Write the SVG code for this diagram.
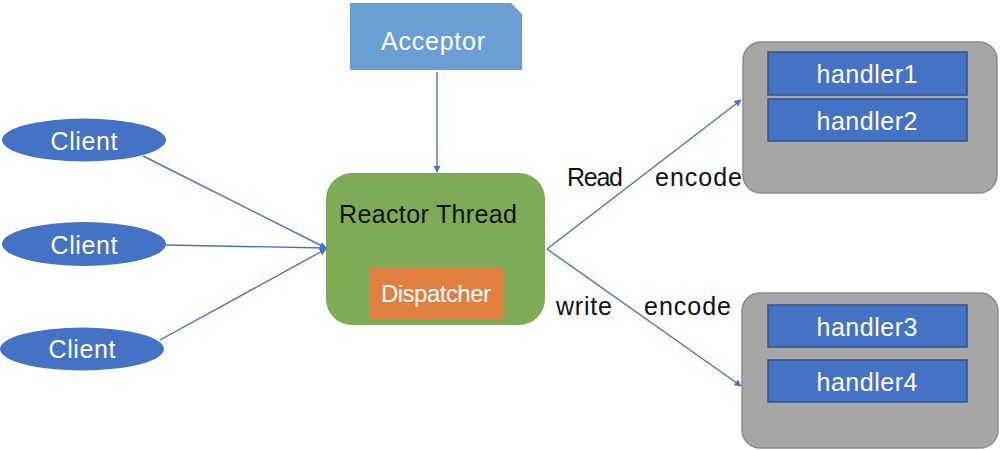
<svg xmlns="http://www.w3.org/2000/svg" width="1000" height="450" viewBox="0 0 1000 450">
<defs>
<style>
.t{font-family:"Liberation Sans",Arial,sans-serif;font-size:25px}
.w{fill:#ffffff;text-anchor:middle}
.k{fill:#111111}
.client{fill:#4472C4}
.handler{fill:#4472C4;stroke:#2F528F;stroke-width:1.5}
.pool{fill:#A6A6A6;stroke:#8C8C8C;stroke-width:1.5}
.conn{stroke:#4472C4;stroke-width:1.4;fill:none}
</style>
<marker id="arr" viewBox="0 0 10 10" refX="9" refY="5" markerWidth="7" markerHeight="7" markerUnits="userSpaceOnUse" orient="auto">
<path d="M0,0 L10,5 L0,10 z" fill="#4472C4"/>
</marker>
</defs>
<rect width="1000" height="450" fill="#ffffff"/>
<g id="acceptor">
<path d="M350,3 L511,3 L522,14 L522,70 L350,70 z" fill="#6A9FD4"/>
<text class="t w" x="433" y="50" textLength="104">Acceptor</text>
</g>
<g id="reactor">
<rect x="326" y="173" width="219" height="152" rx="26" fill="#7EAB55"/>
<text class="t k" x="339" y="223" textLength="178">Reactor Thread</text>
</g>
<g id="dispatcher">
<rect x="369" y="267" width="134" height="53" fill="#E07F40"/>
<text class="t w" x="436" y="302" style="font-size:24px" textLength="110">Dispatcher</text>
</g>
<g id="client1">
<ellipse class="client" cx="84" cy="140" rx="82" ry="21.5"/>
<text class="t w" x="84" y="150" textLength="67">Client</text>
</g>
<g id="client2">
<ellipse class="client" cx="84" cy="244" rx="82" ry="22"/>
<text class="t w" x="84" y="254" textLength="67">Client</text>
</g>
<g id="client3">
<ellipse class="client" cx="82" cy="349" rx="82" ry="21.5"/>
<text class="t w" x="82" y="358" textLength="67">Client</text>
</g>
<g id="pool1">
<rect class="pool" x="743" y="42" width="254" height="151" rx="18"/>
</g>
<g id="handler1">
<rect class="handler" x="768" y="52" width="199" height="43"/>
<text class="t w" x="867" y="83" textLength="101">handler1</text>
</g>
<g id="handler2">
<rect class="handler" x="768" y="99" width="199" height="42"/>
<text class="t w" x="867" y="130" textLength="101">handler2</text>
</g>
<g id="pool2">
<rect class="pool" x="742" y="293" width="256" height="155" rx="18"/>
</g>
<g id="handler3">
<rect class="handler" x="768" y="305" width="199" height="42"/>
<text class="t w" x="867" y="336" textLength="101">handler3</text>
</g>
<g id="handler4">
<rect class="handler" x="768" y="360" width="199" height="42"/>
<text class="t w" x="867" y="391" textLength="101">handler4</text>
</g>
<g id="connectors">
<line class="conn" x1="437" y1="72" x2="437" y2="172" marker-end="url(#arr)"/>
<line class="conn" x1="143" y1="156" x2="326" y2="248" marker-end="url(#arr)"/>
<line class="conn" x1="166" y1="245" x2="326" y2="248" marker-end="url(#arr)"/>
<line class="conn" x1="160" y1="340" x2="326" y2="249" marker-end="url(#arr)"/>
<line class="conn" x1="547" y1="249" x2="741" y2="100" marker-end="url(#arr)"/>
<line class="conn" x1="547" y1="249" x2="741" y2="386" marker-end="url(#arr)"/>
<text class="t k" x="567" y="186" textLength="56">Read</text>
<text class="t k" x="655" y="186" textLength="87">encode</text>
<text class="t k" x="556" y="315" textLength="56">write</text>
<text class="t k" x="644" y="315" textLength="87">encode</text>
</g>
</svg>
